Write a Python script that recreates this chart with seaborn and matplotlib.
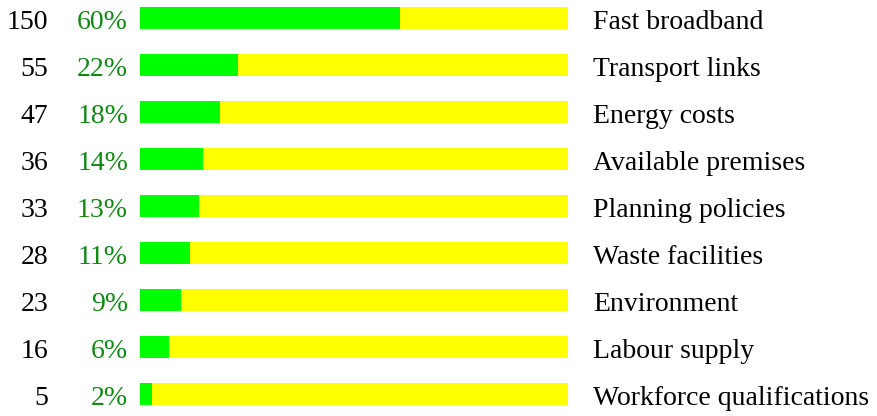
import matplotlib
matplotlib.use("Agg")
import matplotlib.pyplot as plt
import seaborn as sns
import pandas as pd

# values
factors = ["Fast broadband", "Transport links", "Energy costs", "Available premises",
           "Planning policies", "Waste facilities", "Environment", "Labour supply",
           "Workforce qualifications"]
counts = [150, 55, 47, 36, 33, 28, 23, 16, 5]
pct_labels = ["60%", "22%", "18%", "14%", "13%", "11%", "9%", "6%", "2%"]
# green bar length as share of the full (yellow) bar
shares = [60.7, 22.9, 18.7, 14.7, 13.7, 11.7, 9.6, 6.8, 2.7]

df = pd.DataFrame({"factor": factors, "share": shares, "full": [100] * len(factors)})

sns.set_style("white")
plt.rcParams["font.family"] = ["Liberation Serif", "DejaVu Serif"]

W, H = 878, 416
fig = plt.figure(figsize=(W / 100, H / 100), dpi=100)
top_px, row_px = -5.5, 47
n = len(factors)
left_px, right_px = 140, 568
ax = fig.add_axes([left_px / W, 1 - (top_px + n * row_px) / H,
                   (right_px - left_px) / W, n * row_px / H])

bar_w = 22 / 47
sns.barplot(data=df, x="full", y="factor", color="#ffff00", width=bar_w,
            saturation=1, linewidth=0, ax=ax)
sns.barplot(data=df, x="share", y="factor", color="#00ff00", width=bar_w,
            saturation=1, linewidth=0, ax=ax)

ax.set_xlim(0, 100)
ax.set_ylim(n - 0.5, -0.5)
ax.axis("off")

def px_to_x(px):
    return (px - left_px) / (right_px - left_px) * 100

# text baseline sits on the bottom edge of each bar
base = bar_w / 2 - 0.01
fs = 20
for i in range(n):
    ax.text(px_to_x(48), i + base, str(counts[i]), ha="right", va="baseline",
            fontsize=fs, color="black", clip_on=False)
    ax.text(px_to_x(128), i + base, pct_labels[i], ha="right", va="baseline",
            fontsize=fs, color="#118811", clip_on=False)
    ax.text(px_to_x(593), i + base, factors[i], ha="left", va="baseline",
            fontsize=fs, color="black", clip_on=False)

fig.savefig("out.png", dpi=100)
